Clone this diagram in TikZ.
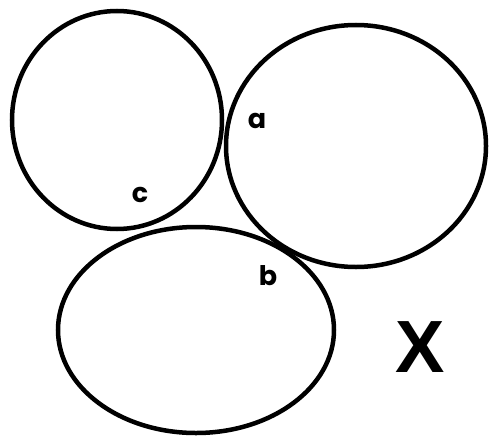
\documentclass[tikz,border=0pt]{standalone}
\usepackage{fontspec}
\setmainfont{Poppins}
\newfontfamily\xfont{Liberation Sans}
\begin{document}
\begin{tikzpicture}[x=1pt,y=-1pt,
  ring/.style={draw=black,line width=4.5pt},
  lbl/.style={font=\bfseries\fontsize{27}{27}\selectfont,inner sep=0pt}]
\useasboundingbox[fill=white] (0,0) rectangle (489,436);
\draw[ring] (117,120) ellipse [x radius=105,y radius=109];
\draw[ring] (356,146) ellipse [x radius=130,y radius=121];
\draw[ring] (196,330) ellipse [x radius=138,y radius=103];
\node[lbl,anchor=base] (a) at (257,128) {a};
\node[lbl,anchor=base] (c) at (140,202) {c};
\node[lbl,anchor=base] (b) at (268,285) {b};
\node[inner sep=0pt,font=\xfont\bfseries\fontsize{74}{74}\selectfont] (X) at (420,347) {X};
\end{tikzpicture}
\end{document}
